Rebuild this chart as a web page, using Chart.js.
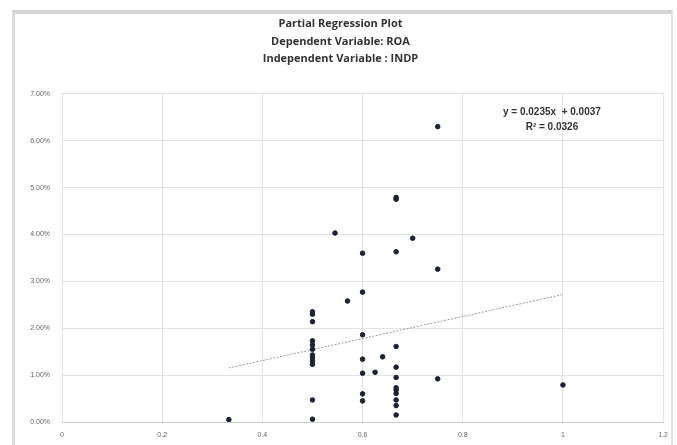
<!DOCTYPE html>
<html>
<head>
<meta charset="utf-8">
<script src="https://cdn.jsdelivr.net/npm/chart.js@4.4.1/dist/chart.umd.min.js"></script>
<style>
  html, body { margin: 0; padding: 0; background: #fff; }
  #wrap {
    position: absolute; left: 0; top: 0; width: 677px; height: 445px;
    background: #fff;
  }
  #frame {
    position: absolute; left: 12px; top: 10px; width: 661px; height: 435px;
    border-top: 4px solid #d4d4d4; border-left: 3px solid #dcdcdc; border-right: 2px solid #e4e4e4;
    box-sizing: border-box; pointer-events: none;
  }
  canvas { position: absolute; left: 0; top: 0; }
</style>
</head>
<body>
<div id="wrap">
  <canvas id="chart" width="677" height="445"></canvas>
  <div id="frame"></div>
</div>
<script>
// Partial regression data (INDP vs ROA)
const indp = [
  0.333,
  0.5, 0.5, 0.5, 0.5, 0.5, 0.5, 0.5, 0.5, 0.5, 0.5, 0.5, 0.5,
  0.545, 0.57,
  0.6, 0.6, 0.6, 0.6, 0.6, 0.6, 0.6,
  0.625, 0.64,
  0.667, 0.667, 0.667, 0.667, 0.667, 0.667, 0.667, 0.667, 0.667, 0.667, 0.667, 0.667,
  0.7,
  0.75, 0.75, 0.75,
  1.0
];
const roa = [
  0.0005,
  0.0235, 0.0230, 0.0214, 0.0173, 0.0164, 0.0155, 0.0143, 0.0137, 0.0130, 0.0123, 0.0047, 0.0006,
  0.0403, 0.0258,
  0.0360, 0.0277, 0.0186, 0.0134, 0.0104, 0.0060, 0.0045,
  0.0106, 0.0139,
  0.0479, 0.0475, 0.0363, 0.0161, 0.0117, 0.0095, 0.0073, 0.0068, 0.0061, 0.0047, 0.0035, 0.0015,
  0.0392,
  0.0630, 0.0326, 0.0092,
  0.0079
];

// Linear trendline from the fitted equation
const slope = 0.0235;
const intercept = 0.0037;
const trendX = [0.333, 1.0];

const titleLines = ["Partial Regression Plot", "Dependent Variable: ROA", "Independent Variable : INDP"];
const eqLabel = "y = 0.0235x  + 0.0037";
const r2Label = "R\u00b2 = 0.0326";

const points = indp.map((x, i) => ({ x: x, y: roa[i] }));
const trend = trendX.map(x => ({ x: x, y: slope * x + intercept }));

// draws the equation text next to the trendline
const eqPlugin = {
  id: "eqLabel",
  afterDatasetsDraw(chart) {
    const ctx = chart.ctx;
    const xs = chart.scales.x, ys = chart.scales.y;
    const cx = xs.getPixelForValue(0.978);
    ctx.save();
    ctx.fillStyle = "#333";
    ctx.font = "bold 10px 'Liberation Sans', Arial, sans-serif";
    ctx.textAlign = "center";
    ctx.textBaseline = "middle";
    ctx.fillText(eqLabel, cx, ys.getPixelForValue(0.0661));
    ctx.fillText(r2Label, cx, ys.getPixelForValue(0.0629));
    ctx.restore();
  }
};

new Chart(document.getElementById("chart"), {
  type: "scatter",
  data: {
    datasets: [
      {
        label: "ROA",
        data: points,
        backgroundColor: "#1b2233",
        borderColor: "#1b2233",
        pointRadius: 2.3,
        pointHoverRadius: 2.3,
        order: 1
      },
      {
        type: "line",
        label: "Linear",
        data: trend,
        borderColor: "#9a9a9a",
        borderWidth: 1,
        borderDash: [2, 1.5],
        pointRadius: 0,
        fill: false,
        order: 2
      }
    ]
  },
  options: {
    responsive: false,
    animation: false,
    layout: { padding: { left: 14, right: 10, top: 0, bottom: 2 } },
    plugins: {
      legend: { display: false },
      tooltip: { enabled: false },
      title: {
        display: true,
        text: titleLines,
        color: "#333",
        font: { family: "'Open Sans', 'Liberation Sans', sans-serif", size: 11, weight: "bold", lineHeight: 1.6 },
        padding: { top: 15, bottom: 26 }
      }
    },
    scales: {
      x: {
        type: "linear",
        min: 0,
        max: 1.2,
        ticks: {
          stepSize: 0.2,
          color: "#666",
          font: { family: "'Liberation Sans', sans-serif", size: 7 },
          padding: 9,
          callback: v => Math.round(v * 10) / 10
        },
        grid: { color: "#e2e2e2", drawTicks: false },
        border: { color: "#d0d0d0" },
        afterFit(scale) { scale.height = 21; }
      },
      y: {
        min: 0,
        max: 0.07,
        ticks: {
          stepSize: 0.01,
          color: "#666",
          font: { family: "'Liberation Sans', sans-serif", size: 7 },
          padding: 12,
          callback: v => (v * 100).toFixed(2) + "%"
        },
        grid: { color: "#e2e2e2", drawTicks: false },
        border: { display: false },
        afterFit(scale) { scale.width = 48; }
      }
    }
  },
  plugins: [eqPlugin]
});
</script>
</body>
</html>
